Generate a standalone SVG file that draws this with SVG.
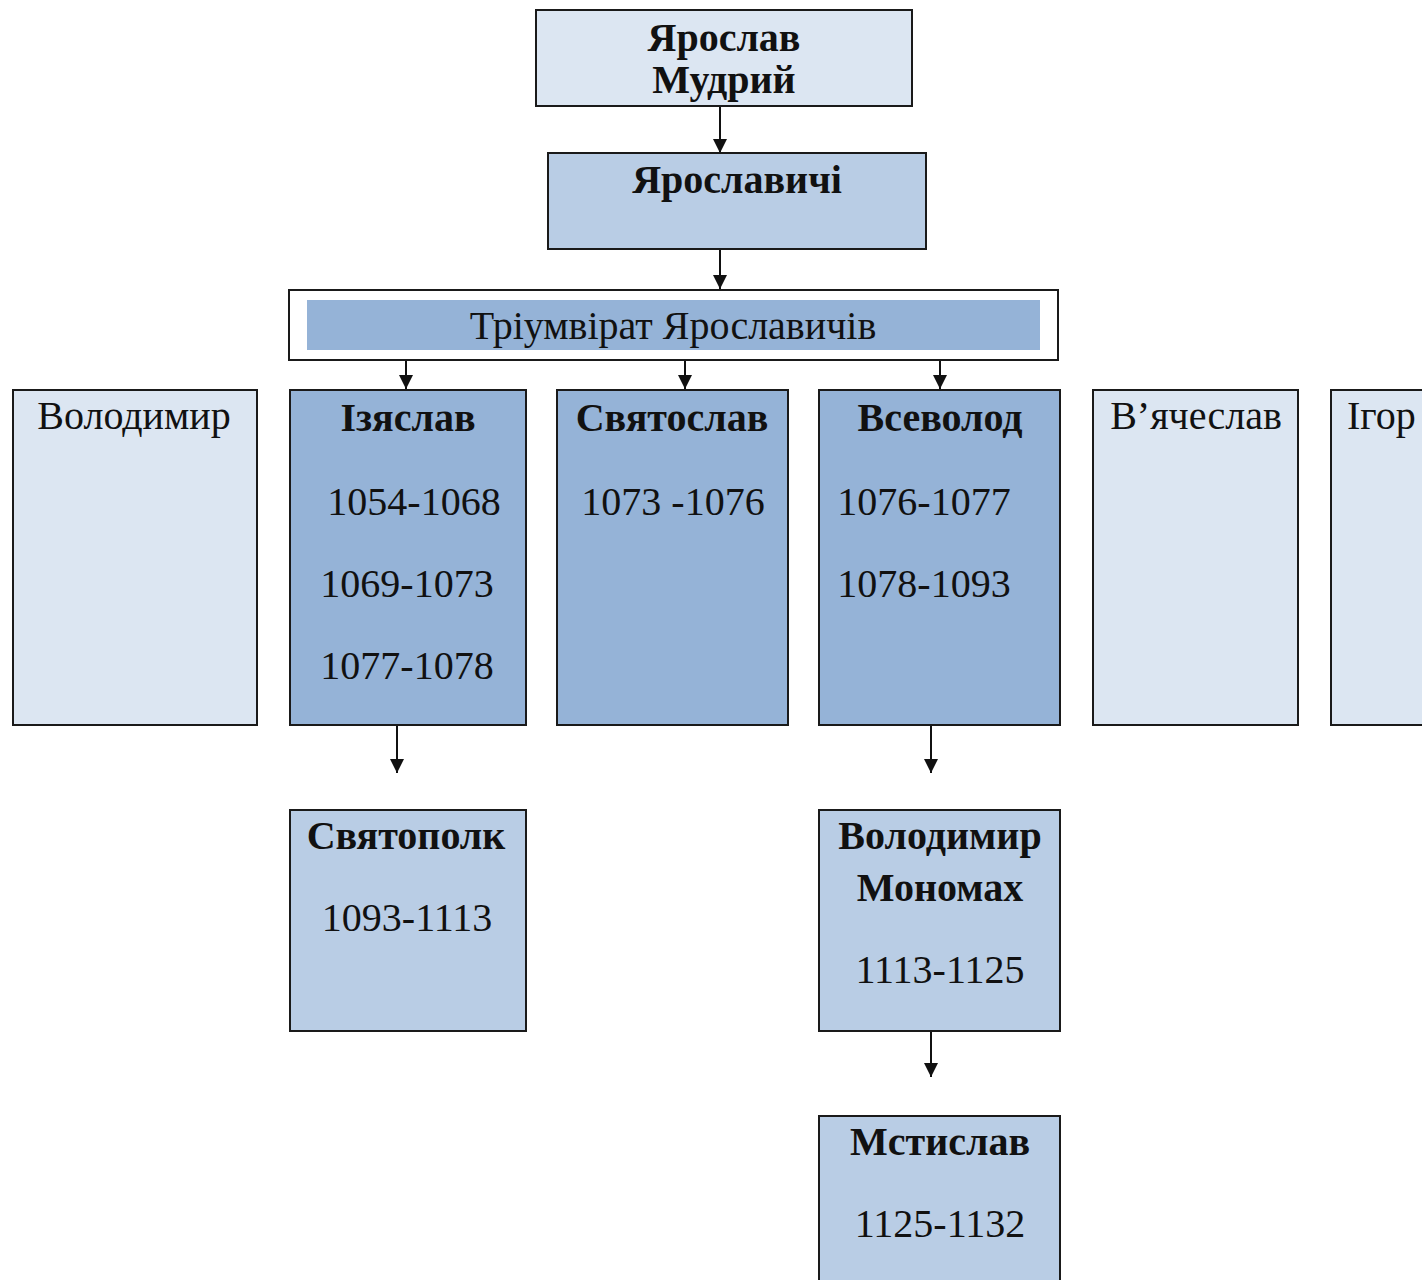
<svg xmlns="http://www.w3.org/2000/svg" width="1422" height="1280" viewBox="0 0 1422 1280">
<style>
.box{stroke:#1a1a1a;stroke-width:2}
.l{fill:#dce6f2}
.m{fill:#b9cde5}
.d{fill:#95b3d7}
text{font-family:"Liberation Serif","Times New Roman",serif;fill:#111;text-anchor:middle}
.b{font-weight:bold;font-size:40px}
.r{font-size:40px}
.n{font-size:40px}
.c{stroke:#111;stroke-width:2;fill:none;marker-end:url(#ah)}
</style>
<defs>
<marker id="ah" viewBox="0 0 14 14" refX="14" refY="7" markerWidth="14" markerHeight="14" markerUnits="userSpaceOnUse" orient="auto">
<path d="M0,0 L14,7 L0,14 Z" fill="#111"/>
</marker>
</defs>
<rect width="1422" height="1280" fill="#fff"/>
<g id="connectors">
<line class="c" x1="720" y1="106" x2="720" y2="153"/>
<line class="c" x1="720" y1="249" x2="720" y2="289"/>
<line class="c" x1="406" y1="360" x2="406" y2="389"/>
<line class="c" x1="685" y1="360" x2="685" y2="389"/>
<line class="c" x1="940" y1="360" x2="940" y2="389"/>
<line class="c" x1="397" y1="725" x2="397" y2="773"/>
<line class="c" x1="931" y1="725" x2="931" y2="773"/>
<line class="c" x1="931" y1="1031" x2="931" y2="1077"/>
</g>
<g id="yaroslav">
<rect class="box l" x="536" y="10" width="376" height="96"/>
<text class="b" x="724" y="51">Ярослав</text>
<text class="b" x="724" y="93">Мудрий</text>
</g>
<g id="yaroslavychi">
<rect class="box m" x="548" y="153" width="378" height="96"/>
<text class="b" x="737" y="193">Ярославичі</text>
</g>
<g id="triumvirat">
<rect x="289" y="290" width="769" height="70" fill="#fff" stroke="#1a1a1a" stroke-width="2"/>
<rect class="d" x="307" y="300" width="733" height="50"/>
<text class="r" x="673" y="339">Тріумвірат Ярославичів</text>
</g>
<g id="volodymyr">
<rect class="box l" x="13" y="390" width="244" height="335"/>
<text class="r" x="134" y="429">Володимир</text>
</g>
<g id="iziaslav">
<rect class="box d" x="290" y="390" width="236" height="335"/>
<text class="b" x="408" y="431">Ізяслав</text>
<text class="n" x="414" y="515">1054-1068</text>
<text class="n" x="407" y="597">1069-1073</text>
<text class="n" x="407" y="679">1077-1078</text>
</g>
<g id="sviatoslav">
<rect class="box d" x="557" y="390" width="231" height="335"/>
<text class="b" x="672" y="431">Святослав</text>
<text class="n" x="673" y="515">1073 -1076</text>
</g>
<g id="vsevolod">
<rect class="box d" x="819" y="390" width="241" height="335"/>
<text class="b" x="940" y="431">Всеволод</text>
<text class="n" x="924" y="515">1076-1077</text>
<text class="n" x="924" y="597">1078-1093</text>
</g>
<g id="viacheslav">
<rect class="box l" x="1093" y="390" width="205" height="335"/>
<text class="r" x="1196" y="429">В’ячеслав</text>
</g>
<g id="ihor">
<rect class="box l" x="1331" y="390" width="100" height="335"/>
<text class="r" style="text-anchor:start" x="1347" y="429">Ігор</text>
</g>
<g id="sviatopolk">
<rect class="box m" x="290" y="810" width="236" height="221"/>
<text class="b" x="406" y="849">Святополк</text>
<text class="n" x="407" y="931">1093-1113</text>
</g>
<g id="monomakh">
<rect class="box m" x="819" y="810" width="241" height="221"/>
<text class="b" x="940" y="849">Володимир</text>
<text class="b" x="940" y="901">Мономах</text>
<text class="n" x="940" y="983">1113-1125</text>
</g>
<g id="mstyslav">
<rect class="box m" x="819" y="1116" width="241" height="180"/>
<text class="b" x="940" y="1155">Мстислав</text>
<text class="n" x="940" y="1237">1125-1132</text>
</g>
</svg>
